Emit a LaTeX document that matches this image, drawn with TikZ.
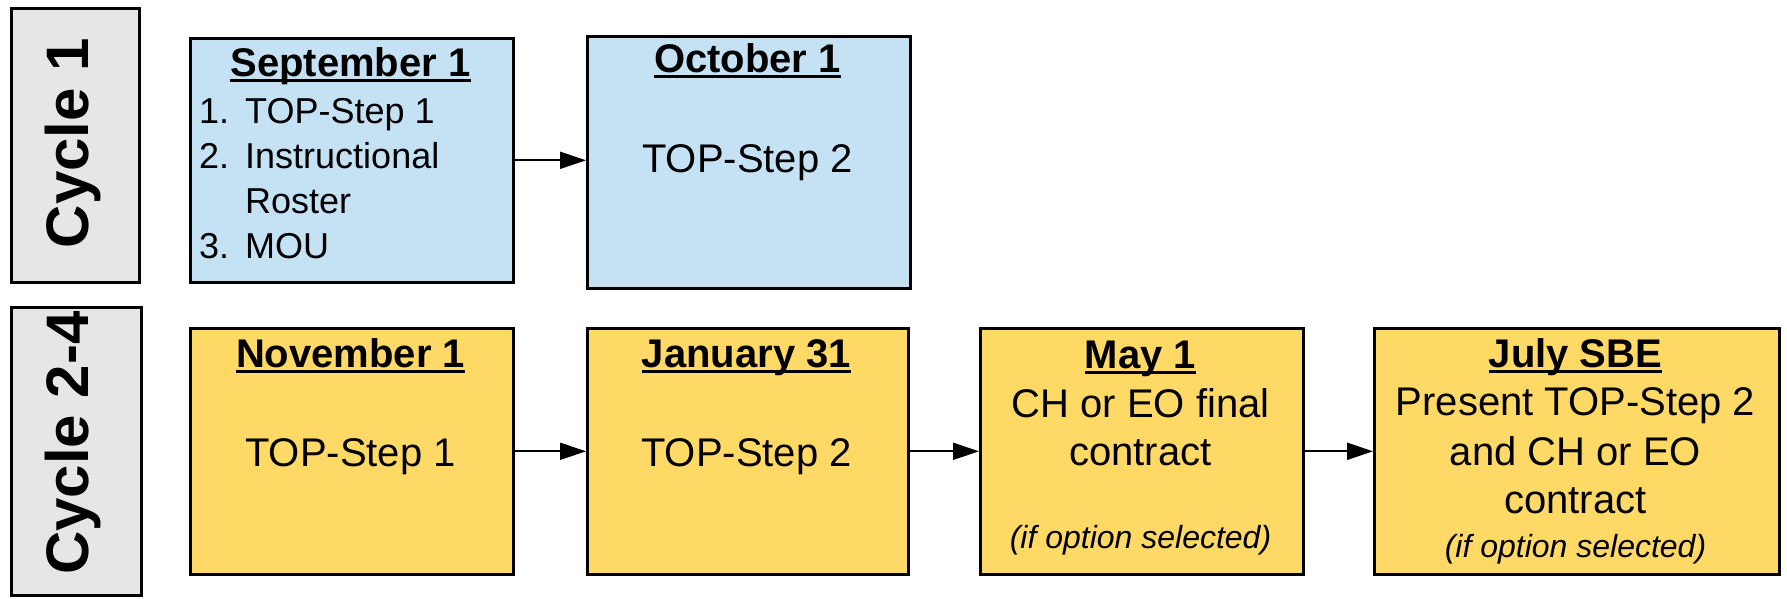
\documentclass[tikz,border=0pt]{standalone}
\usepackage{fontspec}
\setmainfont{Liberation Sans}
\usetikzlibrary{arrows.meta}
\definecolor{bluefill}{HTML}{C5E2F5}
\definecolor{yellowfill}{HTML}{FFD966}
\definecolor{grayfill}{HTML}{E6E6E6}
\newcommand\myul[1]{\setbox0\hbox{#1}\rlap{\rule[-5.5pt]{\wd0}{3pt}}\box0}
\begin{document}
\begin{tikzpicture}[x=1pt,y=-1pt,
  box/.style={draw=black, line width=2.6pt, inner sep=0pt, anchor=north west},
  bluebox/.style={box, fill=bluefill},
  yelbox/.style={box, fill=yellowfill},
  graybox/.style={box, fill=grayfill},
  ttl/.style={font=\fontsize{40}{48}\selectfont\bfseries, inner sep=0pt, anchor=base},
  txt/.style={font=\fontsize{40}{48}\selectfont, inner sep=0pt, anchor=base},
  lst/.style={font=\fontsize{36}{44}\selectfont, inner sep=0pt, anchor=base west},
  itl/.style={font=\fontsize{32}{40}\selectfont\itshape, inner sep=0pt, anchor=base},
  cyc/.style={font=\fontsize{60}{70}\selectfont\bfseries, inner sep=0pt, anchor=base, rotate=90},
  arr/.style={line width=2pt, -{Triangle[length=26pt,width=17pt]}}]
\useasboundingbox (0,0) rectangle (1787,599);
\fill[white] (0,0) rectangle (1787,599);

% cycle labels
\node[graybox, minimum width=128pt, minimum height=274pt] (c1) at (10,7) {};
\node[cyc] (c1t) at (88,143) {Cycle 1};
\node[graybox, minimum width=130pt, minimum height=288pt] (c2) at (10,306) {};
\node[cyc] (c2t) at (88,443) {Cycle 2-4};

% row 1
\node[bluebox, minimum width=323pt, minimum height=244pt] (sep) at (189,37) {};
\node[ttl] (septitle) at (350.5,77) {\myul{September 1}};
\node[lst] (s1n) at (199,124) {1.};
\node[lst] (s1t) at (245,124) {TOP-Step 1};
\node[lst] (s2n) at (199,168) {2.};
\node[lst] (s2t) at (245,168) {Instructional};
\node[lst] (s2u) at (245,213) {Roster};
\node[lst] (s3n) at (199,258) {3.};
\node[lst] (s3t) at (245,258) {MOU};

\node[bluebox, minimum width=323pt, minimum height=252pt] (oct) at (586,35) {};
\node[ttl] (octtitle) at (747.5,73) {\myul{October 1}};
\node[txt] (octbody) at (747.5,172) {TOP-Step 2};

% row 2
\node[yelbox, minimum width=323pt, minimum height=246pt] (nov) at (189,327) {};
\node[ttl] (novtitle) at (350.5,367) {\myul{November 1}};
\node[txt] (novbody) at (350.5,466) {TOP-Step 1};

\node[yelbox, minimum width=321pt, minimum height=246pt] (jan) at (586,327) {};
\node[ttl] (jantitle) at (746.5,367) {\myul{January 31}};
\node[txt] (janbody) at (746.5,466) {TOP-Step 2};

\node[yelbox, minimum width=323pt, minimum height=246pt] (may) at (979,327) {};
\node[ttl] (maytitle) at (1140.5,368) {\myul{May 1}};
\node[txt] (may1) at (1140.5,417) {CH or EO final};
\node[txt] (may2) at (1140.5,465) {contract};
\node[itl] (may3) at (1140.5,548) {(if option selected)};

\node[yelbox, minimum width=405pt, minimum height=246pt] (jul) at (1373,327) {};
\node[ttl] (jultitle) at (1575.5,367) {\myul{July SBE}};
\node[txt] (jul1) at (1575.5,415) {Present TOP-Step 2};
\node[txt] (jul2) at (1575.5,465) {and CH or EO};
\node[txt] (jul3) at (1575.5,513) {contract};
\node[itl] (jul4) at (1575.5,557) {(if option selected)};

% arrows
\draw[arr] (sep.east) -- (sep.east -| oct.west);
\draw[arr] (nov.east) -- (jan.west);
\draw[arr] (jan.east) -- (may.west);
\draw[arr] (may.east) -- (jul.west);
\end{tikzpicture}
\end{document}
